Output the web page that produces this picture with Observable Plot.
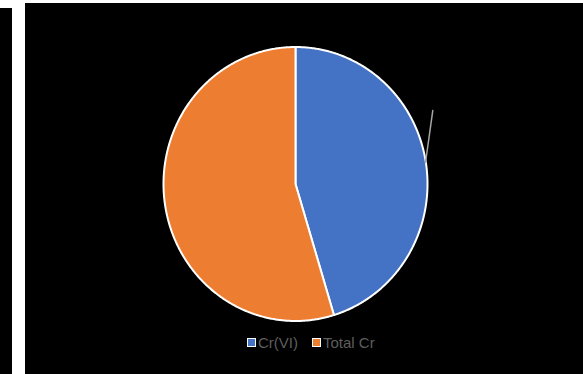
<!DOCTYPE html>
<html>
<head>
<meta charset="utf-8">
<script src="https://cdn.jsdelivr.net/npm/d3@7"></script>
<script src="https://cdn.jsdelivr.net/npm/@observablehq/plot@0.6"></script>
<style>
  html, body { margin: 0; padding: 0; background: #ffffff; width: 583px; height: 374px; overflow: hidden; }
  #strip { position: absolute; left: 0; top: 8px; width: 12px; height: 366px; background: #000; }
  #panel { position: absolute; left: 25px; top: 3px; width: 558px; height: 371px; background: #000; }
  #chart svg { display: block; }
  #legend { position: absolute; left: 222px; top: 331px; display: flex; align-items: center;
            font-family: "Liberation Sans", Arial, sans-serif; font-size: 15px; color: #5e5e5e; }
  .item { display: flex; align-items: center; margin-right: 14px; }
  .sw { width: 7px; height: 7px; border: 1.5px solid #fff; margin-right: 2px; }
</style>
</head>
<body>
<div id="strip"></div>
<div id="panel">
  <div id="chart"></div>
  <div id="legend"></div>
</div>
<script>
// Data
const categories = ["Cr(VI)", "Total Cr"];
const values = [45.3, 54.7];
const colors = ["#4472C4", "#ED7D31"];
// faint leader line seen at the right of the pie (normalized pie units)
const leaderX = [0.985, 1.04];
const leaderY = [0.157, 0.536];

// Build slice outlines from the values (angles clockwise from 12 o'clock)
const total = d3.sum(values);
const pts = [];
let start = 0;
categories.forEach((c, i) => {
  const end = start + values[i] / total * 2 * Math.PI;
  pts.push({cat: c, x: 0, y: 0});
  const n = Math.max(2, Math.ceil((end - start) / (Math.PI / 360)));
  for (let k = 0; k <= n; k++) {
    const a = start + (end - start) * k / n;
    pts.push({cat: c, x: Math.sin(a), y: Math.cos(a)});
  }
  start = end;
});
const leader = leaderX.map((x, i) => ({x, y: leaderY[i]}));

const cx = 270, rx = 132, cy = 180.5, ry = 137;
const chart = Plot.plot({
  width: 558,
  height: 326,
  margin: 0,
  style: {background: "transparent"},
  x: {domain: [-1, 1], range: [cx - rx, cx + rx], axis: null},
  y: {domain: [-1, 1], range: [cy + ry, cy - ry], axis: null},
  color: {domain: categories, range: colors},
  marks: [
    Plot.line(pts, {x: "x", y: "y", z: "cat", fill: "cat", stroke: "#ffffff", strokeWidth: 2, curve: "linear-closed"}),
    Plot.line(leader, {x: "x", y: "y", stroke: "#a6a6a6", strokeWidth: 1.5})
  ]
});
document.getElementById("chart").appendChild(chart);

const legend = document.getElementById("legend");
categories.forEach((c, i) => {
  const it = document.createElement("div");
  it.className = "item";
  const sw = document.createElement("span");
  sw.className = "sw";
  sw.style.background = colors[i];
  const t = document.createElement("span");
  t.textContent = c;
  it.appendChild(sw); it.appendChild(t);
  legend.appendChild(it);
});
</script>
</body>
</html>
